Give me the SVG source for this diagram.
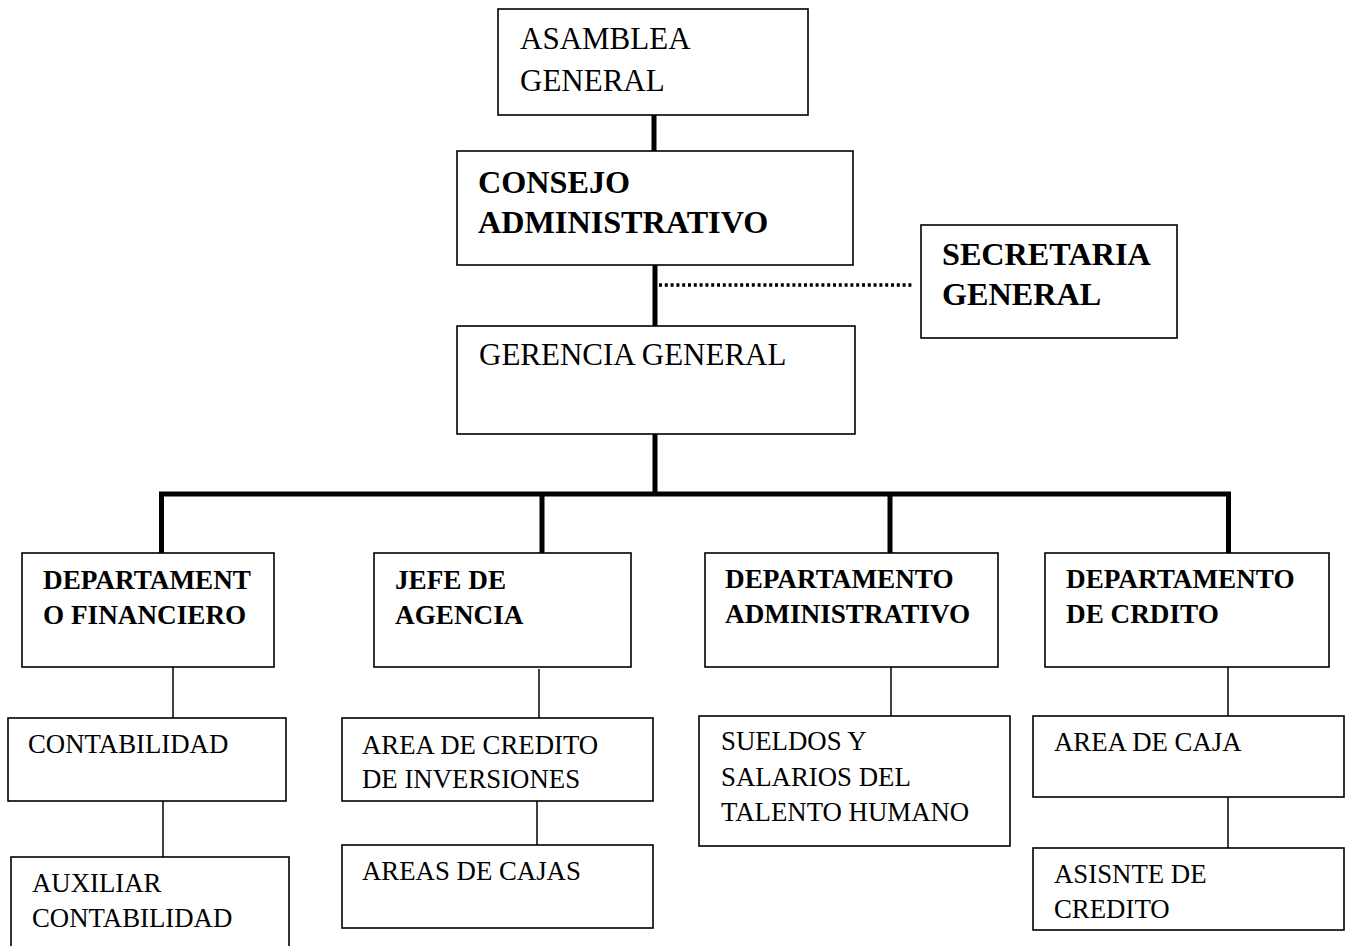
<svg xmlns="http://www.w3.org/2000/svg" width="1352" height="946" viewBox="0 0 1352 946">
  <style>
    .box { fill: #fff; stroke: #000; stroke-width: 1.6; }
    .t { font-family: "Liberation Serif", "Times New Roman", serif; fill: #000; }
    .big { font-size: 31px; }
    .big.b { font-size: 32.2px; }
    .small { font-size: 26.8px; }
    .small.b { font-size: 27.2px; }
    .b { font-weight: bold; }
    .thick { stroke: #000; stroke-width: 5; fill: none; }
    .thin { stroke: #000; stroke-width: 1.5; fill: none; }
    .dotted { stroke: #000; stroke-width: 3.5; stroke-dasharray: 3 2.8; fill: none; }
  </style>
  <rect width="1352" height="946" fill="#fff"/>

  <g id="connectors">
    <line class="thick" x1="654" y1="115" x2="654" y2="151"/>
    <line class="thick" x1="655" y1="265" x2="655" y2="326"/>
    <line class="dotted" x1="659" y1="285" x2="914" y2="285"/>
    <line class="thick" x1="655" y1="434" x2="655" y2="494"/>
    <line class="thick" x1="159" y1="494" x2="1231" y2="494"/>
    <line class="thick" x1="161.5" y1="494" x2="161.5" y2="553"/>
    <line class="thick" x1="542" y1="494" x2="542" y2="553"/>
    <line class="thick" x1="890" y1="494" x2="890" y2="553"/>
    <line class="thick" x1="1228.5" y1="494" x2="1228.5" y2="553"/>
    <line class="thin" x1="173" y1="667" x2="173" y2="718"/>
    <line class="thin" x1="163" y1="801" x2="163" y2="857"/>
    <line class="thin" x1="539" y1="669" x2="539" y2="718"/>
    <line class="thin" x1="537" y1="801" x2="537" y2="845"/>
    <line class="thin" x1="891" y1="667" x2="891" y2="716"/>
    <line class="thin" x1="1228" y1="667" x2="1228" y2="716"/>
    <line class="thin" x1="1228" y1="797" x2="1228" y2="848"/>
  </g>

  <g id="asamblea">
    <rect class="box" x="498" y="9" width="310" height="106"/>
    <text class="t big" x="520" y="49">ASAMBLEA</text>
    <text class="t big" x="520" y="91">GENERAL</text>
  </g>

  <g id="consejo">
    <rect class="box" x="457" y="151" width="396" height="114"/>
    <text class="t big b" x="478" y="193">CONSEJO</text>
    <text class="t big b" x="478" y="233">ADMINISTRATIVO</text>
  </g>

  <g id="secretaria">
    <rect class="box" x="921" y="225" width="256" height="113"/>
    <text class="t big b" x="942" y="265">SECRETARIA</text>
    <text class="t big b" x="942" y="305">GENERAL</text>
  </g>

  <g id="gerencia">
    <rect class="box" x="457" y="326" width="398" height="108"/>
    <text class="t big" x="479" y="365">GERENCIA GENERAL</text>
  </g>

  <g id="dep-financiero">
    <rect class="box" x="22" y="553" width="252" height="114"/>
    <text class="t small b" x="43" y="589">DEPARTAMENT</text>
    <text class="t small b" x="43" y="624">O FINANCIERO</text>
  </g>

  <g id="jefe-agencia">
    <rect class="box" x="374" y="553" width="257" height="114"/>
    <text class="t small b" x="395" y="589">JEFE DE</text>
    <text class="t small b" x="395" y="624">AGENCIA</text>
  </g>

  <g id="dep-administrativo">
    <rect class="box" x="705" y="553" width="293" height="114"/>
    <text class="t small b" x="725" y="588">DEPARTAMENTO</text>
    <text class="t small b" x="725" y="623">ADMINISTRATIVO</text>
  </g>

  <g id="dep-credito">
    <rect class="box" x="1045" y="553" width="284" height="114"/>
    <text class="t small b" x="1066" y="588">DEPARTAMENTO</text>
    <text class="t small b" x="1066" y="623">DE CRDITO</text>
  </g>

  <g id="contabilidad">
    <rect class="box" x="8" y="718" width="278" height="83"/>
    <text class="t small" x="28" y="753">CONTABILIDAD</text>
  </g>

  <g id="auxiliar">
    <rect class="box" x="11" y="857" width="278" height="100"/>
    <text class="t small" x="32" y="892">AUXILIAR</text>
    <text class="t small" x="32" y="927">CONTABILIDAD</text>
  </g>

  <g id="area-credito">
    <rect class="box" x="342" y="718" width="311" height="83"/>
    <text class="t small" x="362" y="754">AREA DE CREDITO</text>
    <text class="t small" x="362" y="788">DE INVERSIONES</text>
  </g>

  <g id="areas-cajas">
    <rect class="box" x="342" y="845" width="311" height="83"/>
    <text class="t small" x="362" y="880">AREAS DE CAJAS</text>
  </g>

  <g id="sueldos">
    <rect class="box" x="699" y="716" width="311" height="130"/>
    <text class="t small" x="721" y="750">SUELDOS Y</text>
    <text class="t small" x="721" y="786">SALARIOS DEL</text>
    <text class="t small" x="721" y="821">TALENTO HUMANO</text>
  </g>

  <g id="area-caja">
    <rect class="box" x="1033" y="716" width="311" height="81"/>
    <text class="t small" x="1054" y="751">AREA DE CAJA</text>
  </g>

  <g id="asisnte">
    <rect class="box" x="1033" y="848" width="311" height="82"/>
    <text class="t small" x="1054" y="883">ASISNTE DE</text>
    <text class="t small" x="1054" y="918">CREDITO</text>
  </g>
</svg>
